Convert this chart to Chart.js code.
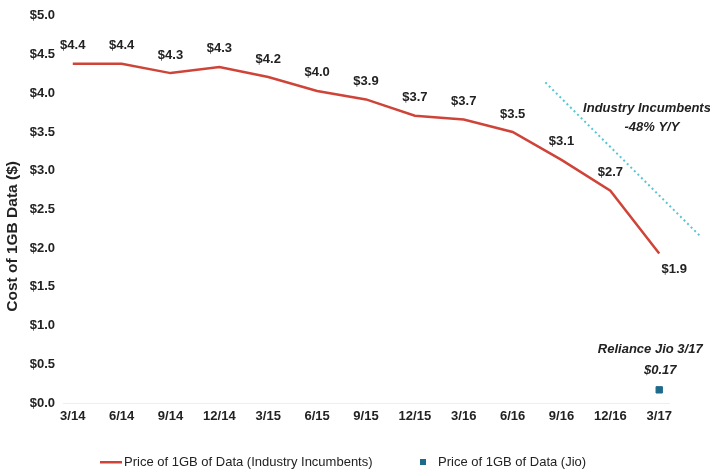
<!DOCTYPE html>
<html>
<head>
<meta charset="utf-8">
<script src="https://cdn.jsdelivr.net/npm/chart.js@4.4.1/dist/chart.umd.min.js"></script>
<style>
  html, body { margin: 0; padding: 0; background: #fff; }
  #wrap { width: 710px; height: 473px; }
</style>
</head>
<body>
<div id="wrap"><canvas id="dataChart"></canvas></div>
<script>
var quarters = ['3/14', '6/14', '9/14', '12/14', '3/15', '6/15', '9/15', '12/15', '3/16', '6/16', '9/16', '12/16', '3/17'];
var incumbentPrice = [4.38, 4.38, 4.26, 4.34, 4.21, 4.03, 3.92, 3.71, 3.66, 3.50, 3.14, 2.74, 1.93];
var jioPrice = 0.17;
var yTicks = [0, 0.5, 1, 1.5, 2, 2.5, 3, 3.5, 4, 4.5, 5];
// trend marker (quarter index, price)
var trendX = [9.67, 12.83];
var trendY = [4.14, 2.16];

var FONT = "'Liberation Sans', Arial, sans-serif";
var RED = '#cf4439';
var JIO = '#1d6b8b';

var extras = {
    id: 'extras',
    afterDatasetsDraw: function (chart) {
        var ctx = chart.ctx;
        var meta = chart.getDatasetMeta(0);
        ctx.save();
        ctx.font = 'bold 13px ' + FONT;
        ctx.fillStyle = '#222';
        ctx.textAlign = 'center';
        ctx.textBaseline = 'middle';
        // value labels
        meta.data.forEach(function (pt, i) {
            var last = i === meta.data.length - 1;
            ctx.fillText('$' + incumbentPrice[i].toFixed(1), pt.x + (last ? 15 : 0), pt.y + (last ? 16 : -18));
        });

        // annotations
        var xs = chart.scales.x, ys = chart.scales.y;
        ctx.font = 'italic bold 13px ' + FONT;
        ctx.fillText('Industry Incumbents', xs.getPixelForValue(11.75), ys.getPixelForValue(3.8));
        ctx.fillText('-48% Y/Y', xs.getPixelForValue(11.85), ys.getPixelForValue(3.56));

        var jp = chart.getDatasetMeta(1).data[0];
        ctx.fillText('Reliance Jio 3/17', jp.x - 9, jp.y - 40);
        ctx.fillText('$0.17', jp.x + 1, jp.y - 19);

        // y axis title
        ctx.save();
        ctx.translate(13, (ys.top + ys.bottom) / 2 + 27);
        ctx.rotate(-Math.PI / 2);
        ctx.font = 'bold 15.5px ' + FONT;
        ctx.fillText('Cost of 1GB Data ($)', 0, 0);
        ctx.restore();

        // legend
        var ly = 462;
        ctx.textAlign = 'left';
        ctx.font = '13px ' + FONT;
        ctx.fillStyle = RED;
        ctx.fillRect(100, ly - 1, 22, 2.5);
        ctx.fillStyle = '#222';
        ctx.fillText(chart.data.datasets[0].label, 124, ly);
        ctx.fillStyle = JIO;
        ctx.fillRect(420, ly - 3, 6, 6);
        ctx.fillStyle = '#222';
        ctx.fillText(chart.data.datasets[1].label, 438, ly);
        ctx.restore();
    }
};

var ctx = document.getElementById('dataChart').getContext('2d');
var dataChart = new Chart(ctx, {
    type: 'line',
    data: {
        datasets: [{
            label: 'Price of 1GB of Data (Industry Incumbents)',
            data: incumbentPrice.map(function (v, i) { return { x: i, y: v }; }),
            borderColor: RED,
            borderWidth: 2.5,
            pointRadius: 0,
            tension: 0
        }, {
            label: 'Price of 1GB of Data (Jio)',
            data: [{ x: quarters.length - 1, y: jioPrice }],
            showLine: false,
            backgroundColor: JIO,
            borderColor: JIO,
            pointStyle: 'rect',
            pointRadius: 4.5
        }, {
            label: 'trend',
            data: trendX.map(function (x, i) { return { x: x, y: trendY[i] }; }),
            borderColor: '#57c6d2',
            borderWidth: 2,
            borderDash: [2, 3],
            pointRadius: 0,
            clip: false
        }]
    },
    options: {
        responsive: true,
        maintainAspectRatio: false,
        animation: false,
        layout: { padding: { top: 15, right: 41, bottom: 0, left: 0 } },
        plugins: {
            legend: { display: false },
            tooltip: { enabled: false }
        },
        scales: {
            x: {
                type: 'linear',
                min: -0.2,
                max: 12.2,
                afterBuildTicks: function (axis) {
                    axis.ticks = quarters.map(function (q, i) { return { value: i }; });
                },
                afterFit: function (axis) { axis.height = 70; },
                grid: { display: false, drawTicks: false },
                border: { color: '#f0eee8' },
                ticks: {
                    autoSkip: false,
                    maxRotation: 0,
                    padding: 6,
                    color: '#222',
                    font: { family: FONT, size: 13, weight: 'bold' },
                    callback: function (v) { return quarters[v]; }
                }
            },
            y: {
                min: 0,
                max: 5,
                afterBuildTicks: function (axis) {
                    axis.ticks = yTicks.map(function (v) { return { value: v }; });
                },
                afterFit: function (axis) { axis.width = 63; },
                grid: { display: false, drawTicks: false },
                border: { display: false },
                ticks: {
                    padding: 8,
                    color: '#222',
                    font: { family: FONT, size: 13, weight: 'bold' },
                    callback: function (v) { return '$' + v.toFixed(1); }
                }
            }
        }
    },
    plugins: [extras]
});
</script>
</body>
</html>
